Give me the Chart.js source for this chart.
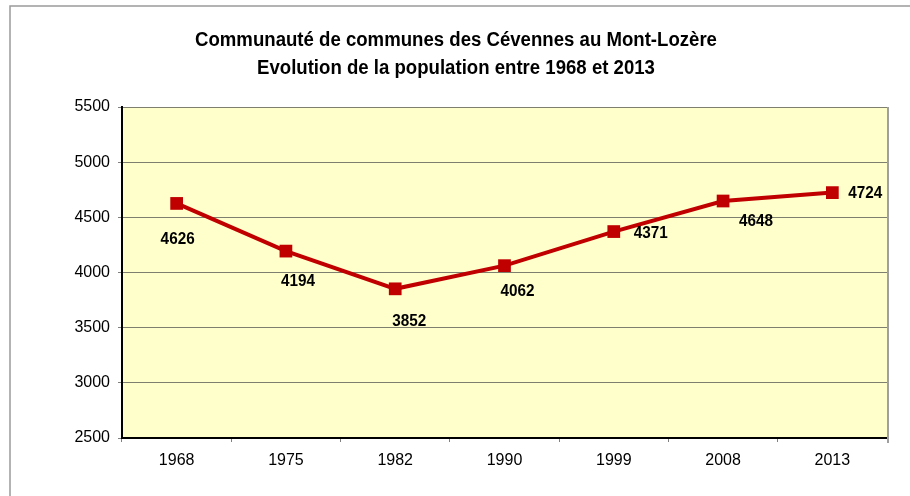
<!DOCTYPE html>
<html>
<head>
<meta charset="utf-8">
<script src="https://cdn.jsdelivr.net/npm/chart.js@4"></script>
<style>
  body { margin: 0; background: #fff; }
  canvas { display: block; }
</style>
</head>
<body>
<canvas id="graphique" width="910" height="496"></canvas>
<script>
const annees = ['1968', '1975', '1982', '1990', '1999', '2008', '2013'];
const population = [4626, 4194, 3852, 4062, 4371, 4648, 4724];
const titre = ['Communauté de communes des Cévennes au Mont-Lozère', 'Evolution de la population entre 1968 et 2013'];

// décalage des étiquettes par rapport au point (comme dans Excel)
const decalages = [[1, 36], [12, 30], [14, 32], [13, 26], [37, 2], [33, 20], [33, 1]];

const police = "'Liberation Sans', Arial, sans-serif";

// texte un peu condensé (type Arial Narrow)
function texteEtroit(ctx, txt, x, y, echelle) {
  ctx.save();
  ctx.translate(x, y);
  ctx.scale(echelle, 1);
  ctx.fillText(txt, 0, 0);
  ctx.restore();
}

const fondEtCadre = {
  id: 'fondEtCadre',
  beforeDraw(chart) {
    const { ctx, chartArea: a } = chart;
    ctx.save();
    ctx.fillStyle = '#FFFFCC';
    ctx.fillRect(a.left, a.top, a.right - a.left, a.bottom - a.top);
    // cadre extérieur
    ctx.strokeStyle = '#9a9a9a';
    ctx.lineWidth = 1.5;
    ctx.beginPath();
    ctx.moveTo(10, 496);
    ctx.lineTo(10, 6);
    ctx.lineTo(910, 6);
    ctx.stroke();
    // titre
    ctx.fillStyle = '#000';
    ctx.font = 'bold 20px ' + police;
    ctx.textAlign = 'center';
    ctx.textBaseline = 'middle';
    texteEtroit(ctx, titre[0], 456, 40, 0.93);
    texteEtroit(ctx, titre[1], 456, 68, 0.93);
    ctx.restore();
  },
  afterDatasetsDraw(chart) {
    const { ctx, chartArea: a } = chart;
    ctx.save();
    ctx.strokeStyle = '#a0a0a0';
    ctx.lineWidth = 2;
    ctx.beginPath();
    ctx.moveTo(a.right + 1, a.top);
    ctx.lineTo(a.right + 1, a.bottom + 5);
    ctx.stroke();
    // étiquettes de données
    const meta = chart.getDatasetMeta(0);
    ctx.fillStyle = '#000';
    ctx.font = 'bold 17px ' + police;
    ctx.textAlign = 'center';
    ctx.textBaseline = 'middle';
    meta.data.forEach((pt, i) => {
      const d = decalages[i];
      texteEtroit(ctx, String(population[i]), pt.x + d[0], pt.y + d[1], 0.9);
    });
    ctx.restore();
  }
};

new Chart(document.getElementById('graphique'), {
  type: 'line',
  data: {
    labels: annees,
    datasets: [{
      data: population,
      borderColor: '#C00000',
      borderWidth: 4,
      backgroundColor: '#C00000',
      pointStyle: 'rect',
      pointRadius: 9,
      pointHoverRadius: 9,
      pointBorderWidth: 0,
      tension: 0
    }]
  },
  options: {
    responsive: false,
    animation: false,
    layout: { padding: { top: 107, left: 10, right: 23, bottom: 0 } },
    plugins: {
      legend: { display: false },
      tooltip: { enabled: false },
      title: { display: false }
    },
    scales: {
      x: {
        offset: true,
        grid: { offset: true, drawOnChartArea: false, tickLength: 4, color: '#808080', tickWidth: 1 },
        border: { color: '#000', width: 2 },
        ticks: { color: '#000', font: { family: police, size: 16 }, padding: 9 },
        afterFit(s) { s.height = 58; }
      },
      y: {
        min: 2500,
        max: 5500,
        ticks: {
          stepSize: 500, color: '#000', font: { family: police, size: 16 }, padding: 8,
          callback: v => String(v)
        },
        grid: { color: '#7f7f70', lineWidth: 1, tickLength: 4, tickColor: '#808080' },
        border: { color: '#000', width: 2 },
        afterFit(s) { s.width = 112; }
      }
    }
  },
  plugins: [fondEtCadre]
});
</script>
</body>
</html>
